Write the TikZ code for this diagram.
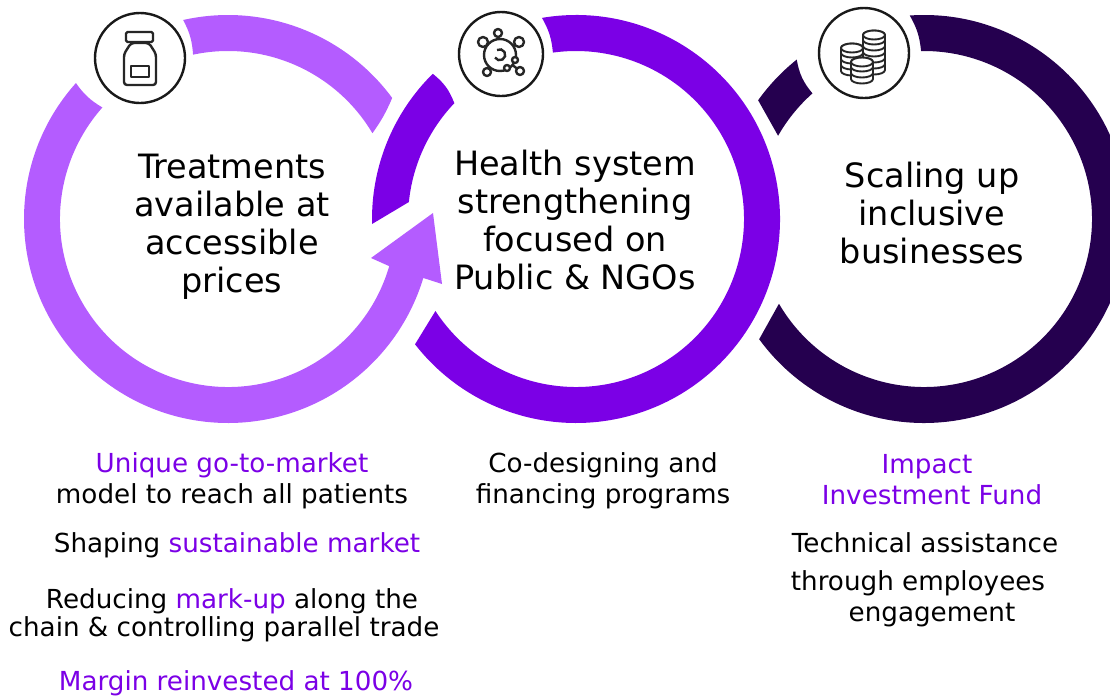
\documentclass[tikz,border=0pt]{standalone}
\usepackage{fontspec}
\setmainfont{DejaVu Sans}
\usetikzlibrary{calc,positioning}

\definecolor{lilac}{HTML}{B45CFF}
\definecolor{violet}{HTML}{7B00E6}
\definecolor{night}{HTML}{25004F}

\tikzset{
    title/.style={align=center,font=\fontsize{33.5}{38}\selectfont,text=black},
    note/.style={anchor=base,font=\fontsize{26.2}{31}\selectfont,text=black,inner sep=0pt},
    badge/.style={circle,draw=black!90,line width=2.4,fill=white,minimum size=90,inner sep=0pt},
    glyph/.style={draw=black!85,line width=2.4,line join=round,fill=white},
    coin/.style={draw=black!85,line width=1.9,line join=round,fill=white},
}

\begin{document}
\begin{tikzpicture}[x=1pt,y=1pt]

\useasboundingbox (0,0) rectangle (1110,-697);
\clip (0,0) rectangle (1110,-697);

\def\Ro{204}
\def\Ri{168}
\coordinate (c1) at (228,-219);
\coordinate (c2) at (576,-219);
\coordinate (c3) at (924,-219);

% first ring
\fill [lilac] ($(c1)+(102.7:\Ro)$) arc [start angle=102.7,end angle=36.4,radius=\Ro]
    to [bend left=6] ($(c1)+(30.7:\Ri)$) arc [start angle=30.7,end angle=102,radius=\Ri] to [bend right=12] cycle;
\fill [lilac] ($(c1)+(138.2:\Ro)$) arc [start angle=138.2,end angle=343.2,radius=\Ro]
    -- (442,-284) -- (433,-213) -- (371,-258)
    -- ($(c1)+(343.7:\Ri)$) arc [start angle=343.7,end angle=138.4,radius=\Ri] to [bend left=12] cycle;

% second ring
\fill [violet] ($(c2)+(134.6:\Ro)$) arc [start angle=134.6,end angle=181.4,radius=\Ro]
    -- ($(c2)+(174.2:\Ri)$) arc [start angle=174.2,end angle=136.4,radius=\Ri] to [bend right=15] cycle;
\fill [violet] ($(c2)+(99.6:\Ro)$) arc [start angle=99.6,end angle=-142.1,radius=\Ro]
    -- ($(c2)+(-146.8:\Ri)$) arc [start angle=-146.8,end angle=97.9,radius=\Ri] to [bend right=12] cycle;

% third ring
\fill [night] ($(c3)+(94:\Ro)$) arc [start angle=94,end angle=-143.9,radius=\Ro]
    -- ($(c3)+(-149.7:\Ri)$) arc [start angle=-149.7,end angle=91,radius=\Ri] to [bend right=12] cycle;
\fill [night] ($(c3)+(144.4:\Ro)$) arc [start angle=144.4,end angle=128.6,radius=\Ro]
    to [bend right=15] ($(c3)+(131.6:\Ri)$) arc [start angle=131.6,end angle=150.3,radius=\Ri] -- cycle;

% titles
\node [title] (title1) at (232,-226.5) {Treatments\\available at\\accessible\\prices};
\node [title] (title2) at (575,-220) {Health system\\strengthening\\focused on\\Public \& NGOs};
\node [title] (title3) at (932,-213) {Scaling up\\inclusive\\businesses};

% badges
\node [badge] (badge1) at (140,-58) {};
\node [badge,minimum size=84] (badge2) at (501,-54) {};
\node [badge] (badge3) at (864,-53) {};

% vial
\draw [glyph,rounded corners=3] (131,-43) -- (124,-54) -- (124,-85) -- (156,-85) -- (156,-54) -- (149,-43) -- cycle;
\draw [glyph,rounded corners=1.5] (126,-32) rectangle (153,-42);
\draw [glyph] (131,-66) rectangle (149,-77);

% virus
\foreach \x/\y/\r in {498/33/4,483/42/5,519/42/5,487/72/4,520/71/4} {
    \draw [glyph] (500,-55) -- (\x,-\y);
    \draw [glyph] (\x,-\y) circle (\r);
}
\draw [glyph] (500,-55) circle (16);
\draw [black!85,line width=2.4] (497,-50) arc [start angle=120,end angle=-150,radius=5.5];
\draw [glyph] (507,-68) circle (3);
\draw [glyph] (515,-60) circle (3);

% coins
\foreach \x/\top/\bot in {874/35/66,852/48/66,862/62/74} {
    \pgfmathsetmacro\n{int((\bot-\top)/6)}
    \foreach \k in {\n,...,0} {
        \pgfmathsetmacro\ytop{\top+6*\k}
        \path [coin] (\x-11,-\ytop) -- ++(0,-5) arc [start angle=180,end angle=360,x radius=11,y radius=4.5]
            -- ++(0,5) arc [start angle=0,end angle=180,x radius=11,y radius=4.5] -- cycle;
    }
    \draw [coin] (\x,-\top) ellipse (11 and 4.5);
}

% lists
\node [note,text=violet] (go1) at (232,-472) {Unique go-to-market};
\node [note] (go2) at (232,-503) {model to reach all patients};
\node [note] (shape) at (237,-552) {Shaping \textcolor{violet}{sustainable market}};
\node [note] (markup1) at (232,-608) {Reducing \textcolor{violet}{mark-up} along the};
\node [note] (markup2) at (224,-636) {chain \& controlling parallel trade};
\node [note,text=violet] (margin) at (236,-690.5) {Margin reinvested at 100\%};

\node [note] (code1) at (603,-472) {Co-designing and};
\node [note] (code2) at (603,-503) {financing programs};

\node [note,text=violet] (fund1) at (927,-473) {Impact};
\node [note,text=violet] (fund2) at (932,-504) {Investment Fund};
\node [note] (tech1) at (925,-552) {Technical assistance};
\node [note] (tech2) at (918,-590) {through employees};
\node [note] (tech3) at (932,-621) {engagement};

\end{tikzpicture}
\end{document}
